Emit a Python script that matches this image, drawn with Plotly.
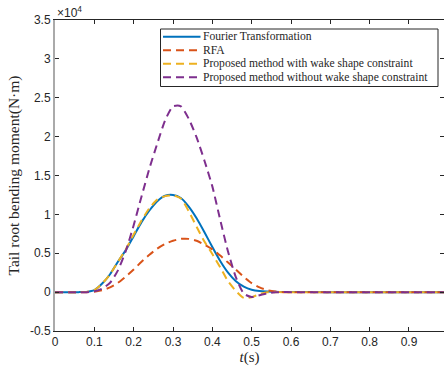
import plotly.graph_objects as go

t = [0.0, 0.06, 0.08, 0.10, 0.12, 0.14, 0.16, 0.18, 0.20, 0.22, 0.24, 0.26, 0.28, 0.30,
     0.32, 0.34, 0.36, 0.38, 0.40, 0.42, 0.44, 0.46, 0.48, 0.50, 0.52, 0.54, 0.56,
     0.58, 0.60, 0.70, 0.80, 0.90, 1.00]

fourier = [0, 0, 30, 250, 1100, 2300, 3900, 5400, 7200, 9000, 10500, 11700, 12400, 12500,
           12100, 11000, 9500, 7700, 5800, 4000, 2500, 1400, 700, 300, 130, 70, 40,
           20, 10, 0, 0, 0, 0]
rfa = [0, 0, 0, 60, 250, 600, 1200, 2000, 2900, 3900, 4800, 5600, 6200, 6600,
       6850, 6850, 6600, 6100, 5500, 4700, 3800, 2900, 1950, 1150, 600, 250, 80,
       0, 0, 0, 0, 0, 0]
with_wake = [0, 0, 30, 250, 1100, 2300, 3900, 5500, 7400, 9200, 10800, 11900, 12350, 12450,
             12050, 10400, 8400, 6500, 4900, 3200, 1400, 150, -750, -650, -250, -30, 0,
             0, 0, 0, 0, 0, 0]
without_wake = [0, 0, 0, 100, 450, 1200, 2800, 5300, 8600, 12300, 15900, 19100, 22100, 23900,
                23900, 22300, 19900, 16900, 13600, 9300, 5200, 1900, -200, -620, -400, -150, -30,
                0, 0, 0, 0, 0, 0]

names = ["Fourier Transformation", "RFA",
         "Proposed method with wake shape constraint",
         "Proposed method without wake shape constraint"]
series = [fourier, rfa, with_wake, without_wake]
colors = ["#0072BD", "#D95319", "#EDB120", "#7E2F8E"]
dashes = ["solid", "8px,5px", "8px,5px", "8px,5px"]

ytickvals = [-5000, 0, 5000, 10000, 15000, 20000, 25000, 30000, 35000]
yticktext = ["-0.5", "0", "0.5", "1", "1.5", "2", "2.5", "3", "3.5"]
xtickvals = [0, 0.1, 0.2, 0.3, 0.4, 0.5, 0.6, 0.7, 0.8, 0.9]
xticktext = ["0", "0.1", "0.2", "0.3", "0.4", "0.5", "0.6", "0.7", "0.8", "0.9"]

fig = go.Figure()
for name, ys, c, d in zip(names, series, colors, dashes):
    fig.add_trace(go.Scatter(x=t, y=ys, mode="lines", name=name, showlegend=False,
                             line=dict(color=c, width=2, dash=d, shape="spline", smoothing=0.6)))

# invisible trace for right-side mirrored ticks
fig.add_trace(go.Scatter(x=[0], y=[0], yaxis="y2", mode="markers",
                         marker=dict(opacity=0), showlegend=False, hoverinfo="skip"))

ink = "#262626"
tickfont = dict(family="Liberation Sans", size=12, color=ink)
fig.update_layout(
    width=444, height=369,
    margin=dict(l=55, r=0, t=20, b=38),
    paper_bgcolor="white", plot_bgcolor="white",
    showlegend=False,
    xaxis=dict(range=[0, 0.989], tickvals=xtickvals, ticktext=xticktext,
               ticks="inside", ticklen=4, tickcolor=ink,
               showline=True, linecolor=ink, linewidth=1, mirror="ticks",
               showgrid=False, zeroline=False, tickfont=tickfont,
               title=dict(text="<i>t</i>(s)", font=dict(family="Liberation Serif", size=15, color=ink),
                          standoff=2)),
    yaxis=dict(range=[-5000, 35000], tickvals=ytickvals, ticktext=yticktext,
               ticks="inside", ticklen=4, tickcolor=ink,
               showline=True, linecolor="#aaaaaa", linewidth=2,
               showgrid=False, zeroline=False, tickfont=tickfont,
               title=dict(text="Tail root bending moment(N·m)",
                          font=dict(family="Liberation Serif", size=15.5, color=ink),
                          standoff=6)),
    yaxis2=dict(range=[-5000, 35000], tickvals=ytickvals, overlaying="y", side="right",
                ticks="inside", ticklen=4, tickcolor=ink, showticklabels=False,
                showline=False, showgrid=False, zeroline=False),
)
fig.add_annotation(xref="paper", yref="paper", x=0, y=1, xanchor="left", yanchor="bottom",
                   text="×10<sup>4</sup>", showarrow=False,
                   font=dict(family="Liberation Sans", size=12, color=ink), yshift=-2)

# legend box (drawn in paper coordinates)
def px_x(p):
    return (p - 55) / 389.0

def px_y(p):
    return (331 - p) / 311.0

fig.add_shape(type="rect", xref="paper", yref="paper",
              x0=px_x(160.5), x1=px_x(438), y0=px_y(86.5), y1=px_y(29),
              line=dict(color=ink, width=1), fillcolor="white", layer="above")
rows = [36.7, 50.3, 63.8, 77.3]
for name, c, d, r in zip(names, colors, dashes, rows):
    fig.add_shape(type="line", xref="paper", yref="paper",
                  x0=px_x(163), x1=px_x(200.5), y0=px_y(r), y1=px_y(r),
                  line=dict(color=c, width=2, dash=d), layer="above")
    fig.add_annotation(xref="paper", yref="paper", x=px_x(201), y=px_y(r),
                       xanchor="left", yanchor="middle", text=name, showarrow=False,
                       font=dict(family="Liberation Serif", size=11.6, color=ink))

fig.write_html("out.html")
